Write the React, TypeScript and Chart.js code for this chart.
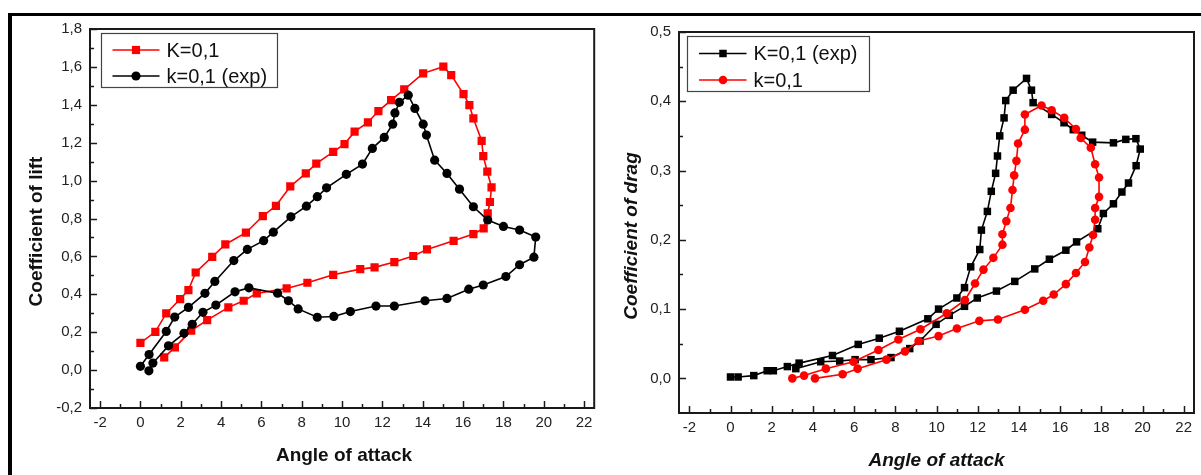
import React, { useEffect, useRef } from 'react';
import { Chart, registerables } from 'chart.js';

Chart.register(...registerables);

// ---------- tick values ----------
const angleTicks = [-2, 0, 2, 4, 6, 8, 10, 12, 14, 16, 18, 20, 22];
const angleMinorTicks = [-1, 1, 3, 5, 7, 9, 11, 13, 15, 17, 19, 21];
const liftTicks = [-0.2, 0, 0.2, 0.4, 0.6, 0.8, 1.0, 1.2, 1.4, 1.6, 1.8];
const liftMinorTicks = [-0.1, 0.1, 0.3, 0.5, 0.7, 0.9, 1.1, 1.3, 1.5, 1.7];
const dragTicks = [0, 0.1, 0.2, 0.3, 0.4, 0.5];
const dragMinorTicks = [0.05, 0.15, 0.25, 0.35, 0.45];

// ---------- labels ----------
const angleTitle = 'Angle of attack';
const liftTitle = 'Coefficient of lift';
const dragTitle = 'Coefficient of drag';
const liftRedLabel = 'K=0,1';
const liftBlackLabel = 'k=0,1 (exp)';
const dragBlackLabel = 'K=0,1 (exp)';
const dragRedLabel = 'k=0,1';

// ---------- lift chart data ----------
const liftRedAngle = [0, 0.74, 1.28, 1.97, 2.38, 2.74, 3.56, 4.21, 5.23, 6.07, 6.72, 7.43, 8.2, 8.72, 9.56, 10.12, 10.62, 11.28, 11.8, 12.43, 13.08, 14.02, 15.02, 15.41, 16.02, 16.31, 16.51, 16.92, 17.0, 17.2, 17.41, 17.33, 17.22, 17.02, 16.51, 15.53, 14.21, 13.53, 12.59, 11.61, 10.9, 9.56, 8.28, 7.25, 5.77, 5.12, 4.36, 3.31, 2.52, 1.71, 1.18];
const liftRedCl = [0.144, 0.202, 0.299, 0.375, 0.422, 0.515, 0.598, 0.663, 0.725, 0.813, 0.867, 0.969, 1.038, 1.09, 1.152, 1.193, 1.258, 1.307, 1.367, 1.425, 1.481, 1.566, 1.601, 1.557, 1.456, 1.398, 1.328, 1.21, 1.129, 1.047, 0.964, 0.887, 0.827, 0.748, 0.718, 0.682, 0.637, 0.602, 0.57, 0.542, 0.533, 0.503, 0.461, 0.431, 0.405, 0.366, 0.331, 0.264, 0.208, 0.12, 0.067];

const liftBlackAngle = [0, 0.43, 1.28, 1.7, 2.38, 3.2, 3.69, 4.63, 5.3, 6.11, 6.59, 7.46, 8.23, 8.77, 9.23, 10.21, 11.01, 11.5, 12.09, 12.51, 12.62, 12.84, 13.28, 13.61, 14.02, 14.18, 14.59, 15.2, 15.82, 16.51, 17.22, 18.0, 18.8, 19.6, 19.51, 18.8, 18.12, 17.0, 16.28, 15.2, 14.11, 12.59, 11.68, 10.41, 9.59, 8.77, 7.82, 7.34, 6.8, 5.38, 4.69, 3.74, 3.1, 2.57, 2.16, 1.39, 0.62, 0.42];
const liftBlackCl = [0.02, 0.082, 0.204, 0.28, 0.331, 0.405, 0.468, 0.578, 0.637, 0.683, 0.728, 0.809, 0.865, 0.915, 0.962, 1.033, 1.087, 1.17, 1.228, 1.298, 1.357, 1.413, 1.451, 1.381, 1.298, 1.24, 1.108, 1.038, 0.955, 0.862, 0.792, 0.758, 0.739, 0.702, 0.596, 0.556, 0.494, 0.449, 0.427, 0.378, 0.366, 0.338, 0.338, 0.309, 0.283, 0.279, 0.323, 0.366, 0.406, 0.434, 0.413, 0.343, 0.305, 0.242, 0.194, 0.128, 0.037, -0.004];

// ---------- drag chart data ----------
const dragBlackAngle = [0, 0.37, 1.13, 1.78, 2.08, 2.76, 3.33, 4.95, 6.2, 7.22, 8.2, 9.58, 10.1, 10.99, 11.36, 11.66, 12.1, 12.18, 12.47, 12.66, 12.87, 12.96, 13.07, 13.28, 13.36, 13.72, 14.37, 14.61, 14.69, 15.59, 16.19, 16.64, 17.05, 17.58, 18.59, 19.19, 19.68, 19.89, 19.69, 19.32, 19.0, 18.59, 18.1, 17.83, 16.8, 16.28, 15.48, 14.77, 13.8, 12.91, 11.98, 11.36, 10.62, 9.98, 9.2, 8.7, 7.79, 6.82, 6.05, 5.3, 4.38, 3.17];
const dragBlackCd = [0.002, 0.002, 0.004, 0.011, 0.011, 0.017, 0.022, 0.033, 0.049, 0.058, 0.068, 0.086, 0.1, 0.116, 0.131, 0.161, 0.186, 0.214, 0.241, 0.27, 0.296, 0.321, 0.35, 0.376, 0.401, 0.416, 0.433, 0.416, 0.398, 0.381, 0.369, 0.359, 0.351, 0.341, 0.34, 0.345, 0.346, 0.331, 0.307, 0.282, 0.269, 0.252, 0.238, 0.216, 0.197, 0.185, 0.172, 0.158, 0.14, 0.126, 0.116, 0.104, 0.091, 0.078, 0.054, 0.043, 0.03, 0.027, 0.027, 0.025, 0.024, 0.014];

const dragRedAngle = [3.0, 3.57, 4.63, 5.97, 7.18, 8.15, 9.22, 10.5, 11.38, 11.87, 12.28, 12.76, 13.2, 13.2, 13.39, 13.59, 13.69, 13.77, 13.88, 13.96, 14.29, 14.29, 15.1, 15.59, 16.2, 16.77, 17.0, 17.49, 17.7, 17.89, 17.89, 17.7, 17.7, 17.6, 17.42, 17.21, 16.77, 16.28, 15.69, 15.18, 14.29, 12.98, 12.08, 10.99, 10.1, 9.13, 8.47, 7.57, 6.17, 5.44, 4.1];
const dragRedCd = [0.0, 0.004, 0.014, 0.024, 0.041, 0.056, 0.071, 0.094, 0.113, 0.137, 0.157, 0.174, 0.193, 0.208, 0.227, 0.246, 0.272, 0.293, 0.314, 0.339, 0.359, 0.381, 0.394, 0.387, 0.376, 0.36, 0.347, 0.333, 0.309, 0.29, 0.262, 0.246, 0.229, 0.207, 0.189, 0.168, 0.152, 0.136, 0.121, 0.112, 0.099, 0.085, 0.083, 0.072, 0.061, 0.054, 0.039, 0.027, 0.014, 0.006, 0.0];

const RED = '#ff0000';
const BLACK = '#000000';
const FONT = "'Liberation Sans', Arial, Helvetica, sans-serif";

const toPoints = (xs: number[], ys: number[]) => xs.map((x, i) => ({ x, y: ys[i] }));
const commaFmt = (v: number) => (Math.abs(v) < 1e-9 ? 0 : v).toFixed(1).replace('.', ',');

type LegendRow = { label: string; color: string; style: 'rect' | 'circle'; r: number };
type DecorCfg = {
  xMinor: number[]; yMinor: number[]; xMajor: number[]; yMajor: number[];
  xTitle: string; yTitle: string; titleFont: string;
  xTitleX: number; xTitleBase: number; yTitleY: number; yTitleBase: number;
  legendBox: [number, number, number, number];
  legendLine: [number, number, number]; legendText: number; legendRowsY: number[];
  rows: LegendRow[];
};

function drawMarker(ctx: CanvasRenderingContext2D, style: string, x: number, y: number, r: number, color: string) {
  ctx.fillStyle = color;
  ctx.beginPath();
  if (style === 'rect') {
    const s = Math.SQRT1_2 * r;
    ctx.rect(x - s, y - s, 2 * s, 2 * s);
  } else {
    ctx.arc(x, y, r, 0, Math.PI * 2);
  }
  ctx.fill();
}

function makeDecor(cfg: DecorCfg) {
  return {
    id: 'decor',
    afterDraw(chart: any) {
      const ctx: CanvasRenderingContext2D = chart.ctx;
      const { left, right, top, bottom } = chart.chartArea;
      const xs = chart.scales.x;
      const ys = chart.scales.y;
      ctx.save();
      ctx.strokeStyle = '#1a1a1a';
      ctx.lineWidth = 1.5;
      const xt = (vals: number[], len: number) => vals.forEach((v) => {
        const px = Math.round(xs.getPixelForValue(v)) + 0.5;
        ctx.beginPath(); ctx.moveTo(px, bottom); ctx.lineTo(px, bottom - len); ctx.stroke();
      });
      const yt = (vals: number[], len: number) => vals.forEach((v) => {
        const py = Math.round(ys.getPixelForValue(v)) + 0.5;
        ctx.beginPath(); ctx.moveTo(left, py); ctx.lineTo(left + len, py); ctx.stroke();
      });
      xt(cfg.xMajor, 7); xt(cfg.xMinor, 4);
      yt(cfg.yMajor, 7); yt(cfg.yMinor, 4);
      ctx.lineWidth = 2;
      ctx.strokeRect(left, top, right - left, bottom - top);

      // axis titles
      ctx.fillStyle = '#111';
      ctx.font = cfg.titleFont;
      ctx.textAlign = 'center';
      ctx.textBaseline = 'alphabetic';
      ctx.fillText(cfg.xTitle, cfg.xTitleX, cfg.xTitleBase);
      ctx.save();
      ctx.translate(cfg.yTitleBase, cfg.yTitleY);
      ctx.rotate(-Math.PI / 2);
      ctx.fillText(cfg.yTitle, 0, 0);
      ctx.restore();

      // legend
      const [bx1, by1, bx2, by2] = cfg.legendBox;
      ctx.fillStyle = '#fff';
      ctx.fillRect(bx1, by1, bx2 - bx1, by2 - by1);
      ctx.strokeStyle = '#444';
      ctx.lineWidth = 1.2;
      ctx.strokeRect(bx1, by1, bx2 - bx1, by2 - by1);
      const [lx1, lx2, mx] = cfg.legendLine;
      cfg.rows.forEach((row, i) => {
        const y = cfg.legendRowsY[i];
        ctx.strokeStyle = row.color;
        ctx.lineWidth = 1.6;
        ctx.beginPath(); ctx.moveTo(lx1, y); ctx.lineTo(lx2, y); ctx.stroke();
        drawMarker(ctx, row.style, mx, y, row.r, row.color);
        ctx.fillStyle = '#111';
        ctx.font = `20px ${FONT}`;
        ctx.textAlign = 'left';
        ctx.textBaseline = 'middle';
        ctx.fillText(row.label, cfg.legendText, y + 1);
      });
      ctx.restore();
    },
  };
}

function buildConfig(opts: {
  datasets: any[]; yMin: number; yMax: number; yTicks: number[];
  yWidth: number; xHeight: number; padTop: number; padRight: number; decor: DecorCfg;
}) {
  const tickFont = { family: FONT, size: 15 };
  return {
    type: 'scatter',
    data: { datasets: opts.datasets },
    options: {
      animation: false,
      responsive: false,
      events: [],
      layout: { padding: { top: opts.padTop, right: opts.padRight, left: 0, bottom: 0 } },
      plugins: { legend: { display: false }, tooltip: { enabled: false }, title: { display: false } },
      scales: {
        x: {
          type: 'linear', min: -2.5, max: 22.5,
          afterBuildTicks: (s: any) => { s.ticks = angleTicks.map((v) => ({ value: v })); },
          afterFit: (s: any) => { s.height = opts.xHeight; },
          grid: { display: false, drawTicks: false },
          border: { display: false },
          ticks: { padding: 6, font: tickFont, color: '#222', autoSkip: false, maxRotation: 0, callback: (v: any) => String(v) },
        },
        y: {
          type: 'linear', min: opts.yMin, max: opts.yMax,
          afterBuildTicks: (s: any) => { s.ticks = opts.yTicks.map((v) => ({ value: v })); },
          afterFit: (s: any) => { s.width = opts.yWidth; },
          grid: { display: false, drawTicks: false },
          border: { display: false },
          ticks: { padding: 8, font: tickFont, color: '#222', autoSkip: false, callback: (v: any) => commaFmt(Number(v)) },
        },
      },
    },
    plugins: [makeDecor(opts.decor)],
  };
}

function ChartBox(props: { left: number; width: number; make: () => any }) {
  const ref = useRef<HTMLCanvasElement | null>(null);
  useEffect(() => {
    const chart = new Chart(ref.current as HTMLCanvasElement, props.make());
    return () => chart.destroy();
  }, []);
  return (
    <canvas
      ref={ref}
      width={props.width}
      height={475}
      style={{ position: 'absolute', left: props.left, top: 0, width: props.width, height: 475 }}
    />
  );
}

const lineDs = (label: string, xs: number[], ys: number[], color: string, style: string, r: number, order: number) => ({
  label,
  data: toPoints(xs, ys),
  showLine: true,
  tension: 0,
  borderColor: color,
  backgroundColor: color,
  borderWidth: 1.6,
  pointStyle: style,
  pointRadius: r,
  pointBorderWidth: 0,
  pointBackgroundColor: color,
  order,
});

const makeLift = () => buildConfig({
  datasets: [
    lineDs(liftRedLabel, liftRedAngle, liftRedCl, RED, 'rect', 5.8, 2),
    lineDs(liftBlackLabel, liftBlackAngle, liftBlackCl, BLACK, 'circle', 4.6, 1),
  ],
  yMin: -0.2, yMax: 1.8, yTicks: liftTicks,
  yWidth: 90, xHeight: 67, padTop: 29, padRight: 2,
  decor: {
    xMajor: angleTicks, xMinor: angleMinorTicks, yMajor: liftTicks, yMinor: liftMinorTicks,
    xTitle: angleTitle, yTitle: liftTitle, titleFont: `bold 19px ${FONT}`,
    xTitleX: 344, xTitleBase: 460.5, yTitleY: 231.5, yTitleBase: 41.5,
    legendBox: [101.5, 33.5, 277.5, 87.5], legendLine: [112.5, 159.5, 136], legendText: 166.5,
    legendRowsY: [50, 76],
    rows: [
      { label: liftRedLabel, color: RED, style: 'rect', r: 5.8 },
      { label: liftBlackLabel, color: BLACK, style: 'circle', r: 4.6 },
    ],
  },
});

const makeDrag = () => buildConfig({
  datasets: [
    lineDs(dragBlackLabel, dragBlackAngle, dragBlackCd, BLACK, 'rect', 5.3, 2),
    lineDs(dragRedLabel, dragRedAngle, dragRedCd, RED, 'circle', 4.3, 1),
  ],
  yMin: -0.05, yMax: 0.5, yTicks: dragTicks,
  yWidth: 79, xHeight: 62, padTop: 32, padRight: 7,
  decor: {
    xMajor: angleTicks, xMinor: angleMinorTicks, yMajor: dragTicks, yMinor: dragMinorTicks,
    xTitle: angleTitle, yTitle: dragTitle, titleFont: `italic bold 19px ${FONT}`,
    xTitleX: 336.5, xTitleBase: 466, yTitleY: 236, yTitleBase: 36.5,
    legendBox: [87.5, 36.5, 269.5, 91.5], legendLine: [99, 146.5, 123], legendText: 153.5,
    legendRowsY: [53.5, 80],
    rows: [
      { label: dragBlackLabel, color: BLACK, style: 'rect', r: 5.3 },
      { label: dragRedLabel, color: RED, style: 'circle', r: 4.3 },
    ],
  },
});

export default function App() {
  return (
    <div style={{ position: 'absolute', left: 0, top: 0, width: 1201, height: 475, background: '#fff', overflow: 'hidden' }}>
      <div
        style={{
          position: 'absolute', left: 8, top: 13, width: 1193, height: 462,
          borderTop: '3px solid #000', borderLeft: '4px solid #000', boxSizing: 'border-box',
        }}
      />
      <ChartBox left={0} width={600} make={makeLift} />
      <ChartBox left={600} width={601} make={makeDrag} />
    </div>
  );
}
